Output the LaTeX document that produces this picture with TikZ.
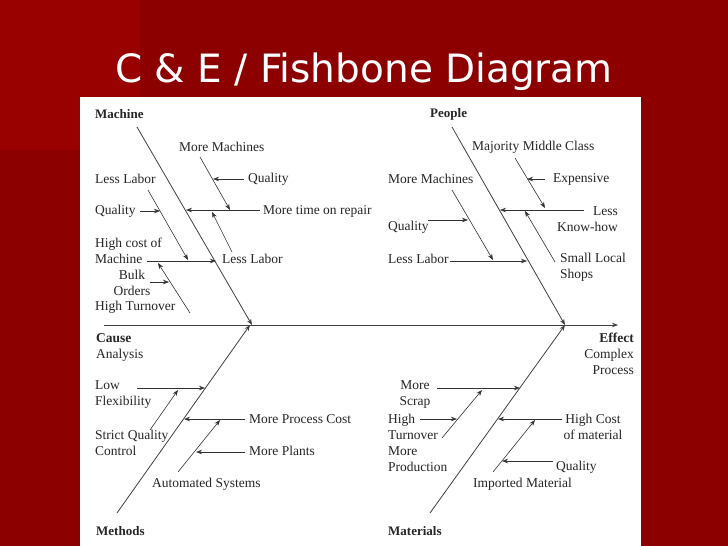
\documentclass[tikz,border=0pt]{standalone}
\usepackage{fontspec}
\setmainfont{Liberation Serif}
\newfontfamily\titlefont{DejaVu Sans}
\usetikzlibrary{arrows.meta}

\tikzset{
  bone/.style={draw=black!75, line width=0.8pt},
  sub/.style={draw=black!80, line width=0.6pt, -{Stealth[length=6pt,width=4.5pt]}},
  lbl/.style={inner sep=0pt, font=\fontsize{13.5}{16}\selectfont, text=black!85},
  head/.style={lbl, font=\fontsize{13}{16}\selectfont\bfseries}
}

\begin{document}
\begin{tikzpicture}[x=1pt, y=-1pt]

    %% Background
    \fill[red!55!black] (0,0) rectangle (728,546);
    \fill[red!60!black] (0,0) rectangle (140,150);
    \useasboundingbox (0,0) rectangle (728,546);
    \node[text=white, font=\titlefont\fontsize{39}{44}\selectfont] (title) at (364,72) {C \& E / Fishbone Diagram};
    \fill[white] (80,97) rectangle (641,546);

    % Bones
    \coordinate (tail) at (104,325);
    \coordinate (head) at (618,325);
    \coordinate (mA) at (137,127);  \coordinate (mB) at (252,325);
    \coordinate (pA) at (452,127);  \coordinate (pB) at (565,325);
    \coordinate (tA) at (117,513);  \coordinate (tB) at (250,325);
    \coordinate (sA) at (430,513);  \coordinate (sB) at (565,325);
    \draw[sub, bone] (tail) -- (head);
    \draw[sub, bone] (mA) -- (mB);
    \draw[sub, bone] (pA) -- (pB);
    \draw[sub, bone] (tA) -- (tB);
    \draw[sub, bone] (sA) -- (sB);

    % Headings
    \node[head, anchor=west] (machine) at (95,114) {Machine};
    \node[head, anchor=west] (people) at (430,114) {People};
    \node[lbl, anchor=north west, align=left] (cause) at (96,333) {\textbf{Cause}\\Analysis};
    \node[lbl, anchor=north east, align=right] (effect) at (634,333) {\textbf{Effect}\\Complex\\Process\hspace{2pt}};
    \node[head, anchor=west] (methods) at (96,531) {Methods};
    \node[head, anchor=west] (materials) at (388,531) {Materials};

    % Machine
    \node[lbl, anchor=west] (mMore) at (179,147) {More Machines};
    \node[lbl, anchor=west] (mQual) at (248,179) {Quality};
    \node[lbl, anchor=west] (mRep) at (263,211) {More time on repair};
    \node[lbl, anchor=west] (mLess) at (222,259) {Less Labor};
    \node[lbl, anchor=west] (mLessL) at (95,179) {Less Labor};
    \node[lbl, anchor=west] (mQualL) at (95,211) {Quality};
    \node[lbl, anchor=west, align=left] (mCost) at (95,251) {High cost of\\Machine};
    \node[lbl, align=center] (mBulk) at (132,283) {Bulk\\Orders};
    \node[lbl, anchor=west] (mTurn) at (95,307) {High Turnover};
    \draw[sub] (200,157) -- (230,210);
    \draw[sub] (mQual.west) ++(-4,0) -- (213,179);
    \draw[sub] (260,210) -- (186,210);
    \draw[sub] (232,252) -- (212,212);
    \draw[sub] (148,190) -- (188,260);
    \draw[sub] (mQualL.east) ++(4,0) -- (160,211);
    \draw[sub] (147,261) -- (216,261);
    \draw[sub] (150,282) -- (169,282);
    \draw[sub] (190,313) -- (158,263);

    % People
    \node[lbl, anchor=west] (pMaj) at (472,147) {Majority Middle Class};
    \node[lbl, anchor=west] (pExp) at (553,179) {Expensive};
    \node[lbl, anchor=east, align=right] (pKnow) at (618,219) {Less\\Know-how};
    \node[lbl, anchor=west, align=left] (pShop) at (560,267) {Small Local\\Shops};
    \node[lbl, anchor=west] (pMore) at (388,179) {More Machines};
    \node[lbl, anchor=west] (pQual) at (388,227) {Quality};
    \node[lbl, anchor=west] (pLess) at (388,259) {Less Labor};
    \draw[sub] (515,158) -- (545,208);
    \draw[sub] (545,179) -- (527,179);
    \draw[sub] (584,210) -- (500,210);
    \draw[sub] (555,262) -- (525,211);
    \draw[sub] (452,190) -- (493,260);
    \draw[sub] (428,220) -- (468,220);
    \draw[sub] (450,261) -- (527,261);

    % Methods
    \node[lbl, anchor=west, align=left] (tLow) at (95,395) {Low\\Flexibility};
    \node[lbl, anchor=west, align=left] (tStrict) at (95,443) {Strict Quality\\Control};
    \node[lbl, anchor=west] (tCost) at (249,419) {More Process Cost};
    \node[lbl, anchor=west] (tPlant) at (249,451) {More Plants};
    \node[lbl, anchor=west] (tAuto) at (152,484) {Automated Systems};
    \draw[sub] (137,388) -- (205,388);
    \draw[sub] (150,430) -- (178,390);
    \draw[sub] (245,419) -- (184,419);
    \draw[sub] (245,452) -- (196,452);
    \draw[sub] (178,472) -- (220,420);

    % Materials
    \node[lbl, align=center] (sScrap) at (415,395) {More\\Scrap};
    \node[lbl, anchor=west, align=left] (sTurn) at (388,427) {High\\Turnover};
    \node[lbl, anchor=west, align=left] (sProd) at (388,459) {More\\Production};
    \node[lbl, align=center] (sCost) at (593,427) {High Cost\\of material};
    \node[lbl, anchor=west] (sQual) at (556,467) {Quality};
    \node[lbl, anchor=west] (sImp) at (473,484) {Imported Material};
    \draw[sub] (437,388) -- (520,388);
    \draw[sub] (420,419) -- (457,419);
    \draw[sub] (442,438) -- (482,390);
    \draw[sub] (562,419) -- (498,419);
    \draw[sub] (553,461) -- (502,461);
    \draw[sub] (493,472) -- (535,420);

\end{tikzpicture}
\end{document}
